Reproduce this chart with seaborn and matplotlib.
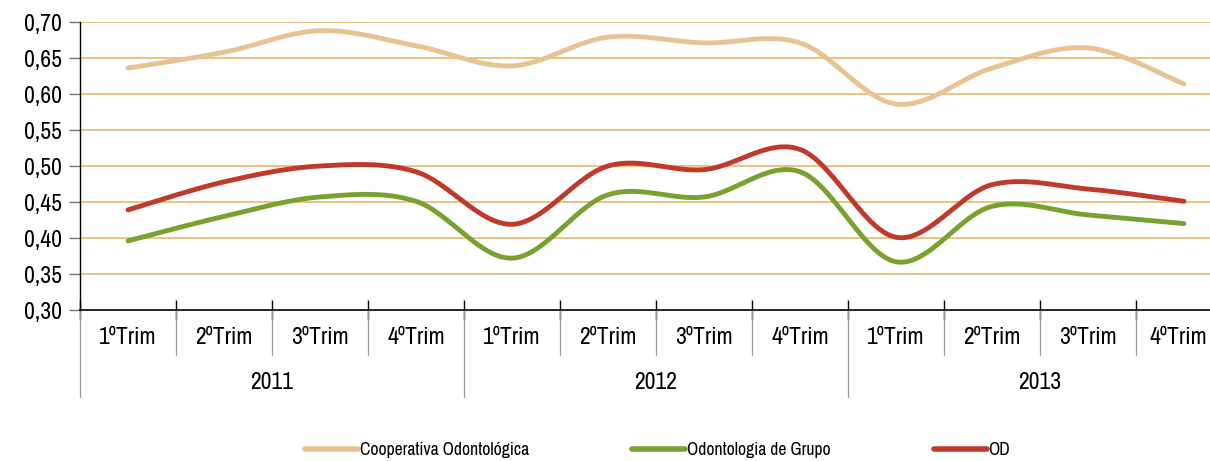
import numpy as np
import pandas as pd
import matplotlib
matplotlib.use('Agg')
import matplotlib.pyplot as plt
import matplotlib.transforms as mtransforms
import seaborn as sns

# values
quarters = ['1ºTrim', '2ºTrim', '3ºTrim', '4ºTrim'] * 3
years = ['2011', '2012', '2013']
cooperativa = [0.636, 0.658, 0.688, 0.667, 0.639, 0.679, 0.671, 0.671, 0.586, 0.636, 0.664, 0.614]
odonto_grupo = [0.396, 0.430, 0.457, 0.451, 0.372, 0.460, 0.457, 0.492, 0.367, 0.444, 0.432, 0.420]
od = [0.439, 0.478, 0.500, 0.492, 0.419, 0.500, 0.495, 0.523, 0.401, 0.474, 0.468, 0.451]

series_names = ['Cooperativa Odontológica', 'Odontologia de Grupo', 'OD']
series_vals = [cooperativa, odonto_grupo, od]
colors = ['#E7C393', '#78A22F', '#C0392B']

sns.set_theme(style='white')
plt.rcParams['font.family'] = ['Archivo Narrow', 'Liberation Sans Narrow', 'Liberation Sans', 'DejaVu Sans']
plt.rcParams['text.color'] = 'black'
plt.rcParams['xtick.color'] = 'black'
plt.rcParams['ytick.color'] = 'black'


def smooth(y, n=30):
    # Excel style smoothed line: bezier segments with catmull-rom control points
    y = np.asarray(y, dtype=float)
    x = np.arange(len(y), dtype=float)
    px = np.concatenate([[x[0]], x, [x[-1]]])
    py = np.concatenate([[y[0]], y, [y[-1]]])
    xs, ys = [], []
    t = np.linspace(0, 1, n)
    for i in range(len(y) - 1):
        p0 = np.array([x[i], y[i]])
        p3 = np.array([x[i + 1], y[i + 1]])
        p1 = p0 + (np.array([px[i + 2], py[i + 2]]) - np.array([px[i], py[i]])) / 6
        p2 = p3 - (np.array([px[i + 3], py[i + 3]]) - np.array([px[i + 1], py[i + 1]])) / 6
        b = ((1 - t) ** 3)[:, None] * p0 + (3 * (1 - t) ** 2 * t)[:, None] * p1 \
            + (3 * (1 - t) * t ** 2)[:, None] * p2 + (t ** 3)[:, None] * p3
        xs.append(b[:, 0])
        ys.append(b[:, 1])
    return np.concatenate(xs), np.concatenate(ys)


frames = []
for name, vals in zip(series_names, series_vals):
    sx, sy = smooth(vals)
    frames.append(pd.DataFrame({'x': sx, 'y': sy, 'serie': name}))
df = pd.concat(frames, ignore_index=True)

fig = plt.figure(figsize=(12.1, 4.61), dpi=100)
ax = fig.add_axes([80 / 1210, 151 / 461, 1152 / 1210, 288 / 461])

# grid lines
for g in np.arange(0.35, 0.701, 0.05):
    ax.axhline(g, color='#E6B25F', lw=1.1, zorder=0)

sns.lineplot(data=df, x='x', y='y', hue='serie', palette=colors, hue_order=series_names,
             linewidth=3.5, ax=ax, sort=False, estimator=None, legend=True)
for ln in ax.get_lines():
    ln.set_solid_capstyle('round')

ax.set_xlim(-0.5, 11.5)
ax.set_ylim(0.30, 0.70)
ax.set_yticks(np.arange(0.30, 0.701, 0.05))
ax.set_yticklabels([f'{v:.2f}'.replace('.', ',') for v in np.arange(0.30, 0.701, 0.05)], fontsize=17)
ax.set_xticks(np.arange(-0.5, 12, 1))
ax.set_xticklabels([])
ax.tick_params(axis='x', direction='inout', length=14, width=1, color='black', bottom=True)
ax.tick_params(axis='y', direction='out', length=8, width=1, color='#777777', left=True, pad=5)
ax.set_xlabel('')
ax.set_ylabel('')

for s in ['top', 'right']:
    ax.spines[s].set_visible(False)
ax.spines['left'].set_color('black')
ax.spines['bottom'].set_color('black')
ax.spines['left'].set_linewidth(1)
ax.spines['bottom'].set_linewidth(1.2)

# category axis: quarter labels, year labels and separators
trans = mtransforms.blended_transform_factory(ax.transData, ax.transAxes)
for i, q in enumerate(quarters):
    xpos = i - 0.06 if i == len(quarters) - 1 else i  # last label sits at the figure edge
    ax.text(xpos, -0.097, q, transform=trans, ha='center', va='center', fontsize=17)
for j, yr in enumerate(years):
    ax.text(4 * j + 1.5, -0.253, yr, transform=trans, ha='center', va='center', fontsize=17)
for b in np.arange(-0.5, 12, 1):
    bottom = -0.302 if (b + 0.5) % 4 == 0 else -0.156
    ax.plot([b, b], [0, bottom], transform=trans, color='#9A9A9A', lw=0.9, clip_on=False)

# legend at the bottom
handles, labels = ax.get_legend_handles_labels()
ax.legend_.remove()
for h in handles:
    h.set_linewidth(4)
fig.legend(handles, labels, loc='center', bbox_to_anchor=(0.5435, 0.024), ncol=3, frameon=False,
           handlelength=3.0, handletextpad=0.1, columnspacing=5.85, fontsize=12.7)

fig.savefig('out.png', dpi=100)
